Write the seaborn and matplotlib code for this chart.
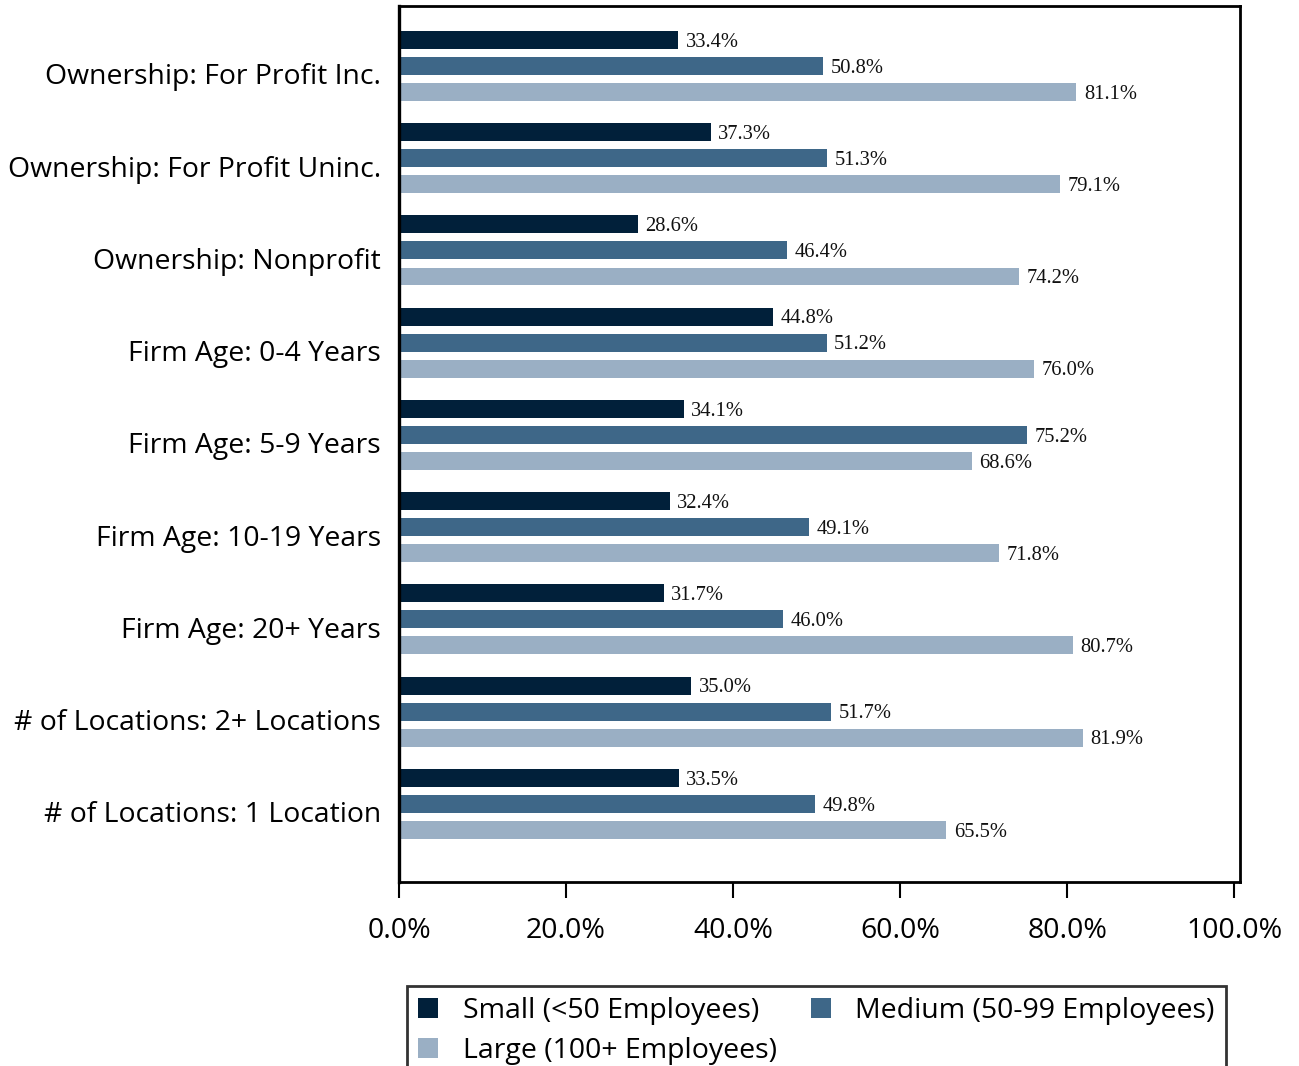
import numpy as np
import pandas as pd
import matplotlib
matplotlib.use("Agg")
import matplotlib.pyplot as plt
import seaborn as sns

categories = [
    "Ownership: For Profit Inc.",
    "Ownership: For Profit Uninc.",
    "Ownership: Nonprofit",
    "Firm Age: 0-4 Years",
    "Firm Age: 5-9 Years",
    "Firm Age: 10-19 Years",
    "Firm Age: 20+ Years",
    "# of Locations: 2+ Locations",
    "# of Locations: 1 Location",
]
small = [33.4, 37.3, 28.6, 44.8, 34.1, 32.4, 31.7, 35.0, 33.5]
medium = [50.8, 51.3, 46.4, 51.2, 75.2, 49.1, 46.0, 51.7, 49.8]
large = [81.1, 79.1, 74.2, 76.0, 68.6, 71.8, 80.7, 81.9, 65.5]
series_names = ["Small (<50 Employees)", "Medium (50-99 Employees)", "Large (100+ Employees)"]
colors = ["#01203a", "#3e6788", "#9aafc4"]
xticks = [0, 20, 40, 60, 80, 100]

rows = []
for name, vals in zip(series_names, [small, medium, large]):
    for c, v in zip(categories, vals):
        rows.append({"Category": c, "Size": name, "Value": v})
df = pd.DataFrame(rows)

sns.set_style("white")
plt.rcParams["font.family"] = ["Open Sans", "DejaVu Sans"]
plt.rcParams["text.color"] = "black"
plt.rcParams["xtick.color"] = "black"
plt.rcParams["ytick.color"] = "black"

fig = plt.figure(figsize=(12.99, 10.66), dpi=100)
ax = fig.add_axes([399 / 1299, 1 - 882 / 1066, (1240 - 399) / 1299, (882 - 6) / 1066])

sns.barplot(data=df, y="Category", x="Value", hue="Size", orient="h",
            palette=colors, saturation=1, width=0.846, gap=0.31,
            linewidth=0, errorbar=None, ax=ax, legend=True)

for cont in ax.containers:
    texts = ax.bar_label(cont, fmt="%.1f%%", padding=6, fontfamily="Liberation Serif",
                         fontsize=14.8, color="#111111")
    for t in texts:
        t.xyann = (5.5, -1.5)

ax.set_xlim(0, 100.7)
ax.set_ylim(8.846, -0.65)
ax.set_xticks(xticks)
ax.set_xticklabels([f"{t:.1f}%" for t in xticks], fontsize=20.5)
ax.set_yticks(np.arange(len(categories)) + 0.087)
ax.set_yticklabels(categories, fontsize=20.4)
ax.set_xlabel("")
ax.set_ylabel("")
ax.tick_params(axis="x", direction="out", length=11.5, width=1.5, pad=14, color="black", bottom=True)
ax.tick_params(axis="y", length=0, pad=13)
for side in ["left", "right", "top", "bottom"]:
    ax.spines[side].set_visible(True)
    ax.spines[side].set_color("black")
    ax.spines[side].set_linewidth(2)
ax.spines["left"].set_linewidth(2.4)

handles, labels = ax.get_legend_handles_labels()
ax.get_legend().remove()
order = [0, 2, 1]
leg = fig.legend([handles[i] for i in order], [labels[i] for i in order], loc="upper left",
                 bbox_to_anchor=(407 / 1299, 1 - 986 / 1066),
                 ncol=2, fontsize=20.5, frameon=True, fancybox=False,
                 edgecolor="black", handlelength=0.7, handleheight=0.7,
                 handletextpad=0.85, columnspacing=1.2, borderpad=0.4,
                 labelspacing=0.42, borderaxespad=0)
leg.get_frame().set_linewidth(2)

fig.savefig("out.png", dpi=100)
